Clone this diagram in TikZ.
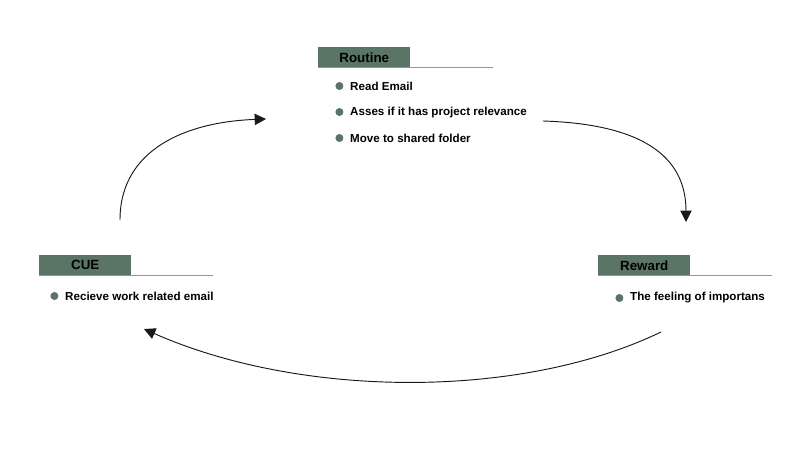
\documentclass[tikz,border=0pt]{standalone}
\usepackage{fontspec}
\setmainfont{Liberation Sans}
\usetikzlibrary{arrows.meta, positioning}

\definecolor{tabgreen}{HTML}{5A7466}
\definecolor{rulegreen}{HTML}{8C9C92}

\begin{document}
\begin{tikzpicture}[
    x=0.03cm, y=-0.03cm,
    >={Triangle[length=3.4mm, width=3.4mm]},
    font=\bfseries\fontsize{9.9}{11}\selectfont,
    tab/.style={rectangle, fill=tabgreen, minimum width=2.76cm, minimum height=0.6cm, inner sep=0pt, anchor=north west, font=\bfseries\fontsize{11.4}{13}\selectfont},
    item/.style={anchor=west, inner sep=0pt},
    dot/.style={circle, fill=tabgreen, minimum size=2.4mm, inner sep=0pt, left=1.9mm of #1.west},
    rulel/.style={draw=rulegreen, line width=0.9pt},
    line/.style={->, line width=0.8pt, black!90}
]
\useasboundingbox (0,0) rectangle (800,466);

% routine
\node[tab] (routine) at (318,47) {Routine};
\draw[rulel] (routine.south west) -- ++(175,0);
\node[item] (read) at (350,86) {Read Email};
\node[item] (asses) at (350,112) {Asses if it has project relevance};
\node[item] (move) at (350,138) {Move to shared folder};
\node[dot=read] (readdot) {};
\node[dot=asses] (assesdot) {};
\node[dot=move] (movedot) {};

% cue
\node[tab] (cue) at (39,255) {CUE};
\draw[rulel] (cue.south west) -- ++(174,0);
\node[item] (email) at (65,296) {Recieve work related email};
\node[dot=email] (emaildot) {};

% reward
\node[tab] (reward) at (598,255) {Reward};
\draw[rulel] (reward.south west) -- ++(174,0);
\node[item] (feeling) at (630,298) {The feeling of importans};
\node[dot=feeling] (feelingdot) {};

% loop ends
\coordinate (cueout) at (120,220);
\coordinate (routinein) at (266,119);
\coordinate (routineout) at (543,121);
\coordinate (rewardin) at (686,222);
\coordinate (rewardout) at (661,332);
\coordinate (cuein) at (144,329);

\draw[line] (cueout) .. controls (120,150) and (185,122) .. (routinein);
\draw[line] (routineout) .. controls (640,124) and (686,155) .. (rewardin);
\draw[line] (rewardout) .. controls (520,400) and (300,398) .. (cuein);
\end{tikzpicture}
\end{document}
